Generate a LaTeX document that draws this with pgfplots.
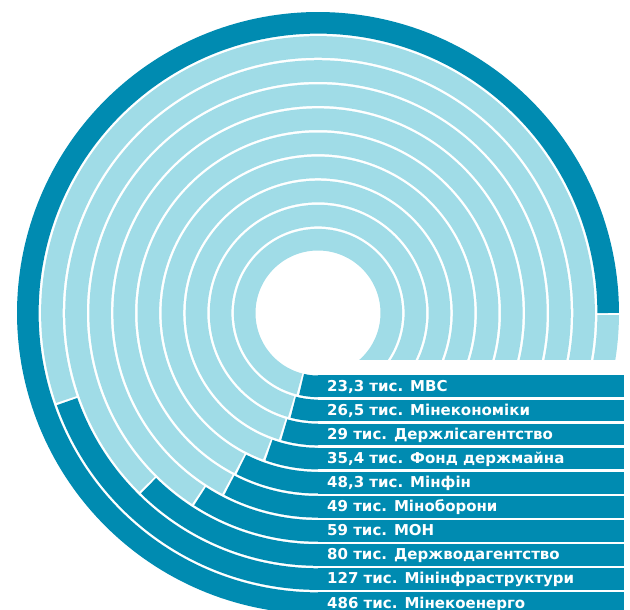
\documentclass[border=0pt]{standalone}
\usepackage{fontspec}
\setmainfont{DejaVu Sans}
\usepackage{pgfplots}
\usepackage{pgfplotstable}
\pgfplotsset{compat=1.18}
\definecolor{darkt}{RGB}{0,139,177}
\definecolor{lightt}{RGB}{160,220,231}
\pgfplotstableread{
idx value
0 23.3
1 26.5
2 29
3 35.4
4 48.3
5 49
6 59
7 80
8 127
9 486
}\datatable

\begin{document}
\begin{tikzpicture}
\useasboundingbox (0,0) rectangle (630bp,610bp);
\begin{axis}[at={(0,0)}, anchor=south west, x=1bp, y=1bp,
  xmin=-318, xmax=312, ymin=-297, ymax=313, hide axis, clip=true,
  enlargelimits=false]
% light remainder of each ring
\pgfplotsinvokeforeach{0,...,9}{
  \pgfplotstablegetelem{#1}{value}\of\datatable
  \pgfmathsetmacro\th{\pgfplotsretval/486*270}
  \pgfmathsetmacro\rr{73.3+24.1*#1}
  \pgfmathsetmacro\rin{\rr-10.8}
  \pgfmathsetmacro\ph{asin(47/\rin)}
  \pgfmathsetmacro\lo{-360-\ph}
  \pgfmathsetmacro\hi{-90-\th-2.2/\rr*57.2958}
  \edef\temp{\noexpand\addplot[draw=lightt, line width=21.6bp, no marks, domain=\lo:\hi, samples=200] ({\rr*cos(x)},{\rr*sin(x)});}
  \temp
}
% white mask for horizontal cut of the light rings
\addplot[fill=white, draw=none] coordinates {(0,-47) (330,-47) (330,-63.3) (0,-63.3)};
% dark value arcs and bars
\pgfplotsinvokeforeach{0,...,9}{
  \pgfplotstablegetelem{#1}{value}\of\datatable
  \pgfmathsetmacro\th{\pgfplotsretval/486*270}
  \pgfmathsetmacro\rr{73.3+24.1*#1}
  \pgfmathsetmacro\hi{-90-\th}
  \edef\temp{\noexpand\addplot[draw=darkt, line width=21.6bp, no marks, domain=\hi:-90, samples=200] ({\rr*cos(x)},{\rr*sin(x)});
  \noexpand\addplot[draw=darkt, line width=21.6bp, no marks] coordinates {(-0.4,-\rr) (306,-\rr)};}
  \temp
}
\begin{scope}[every node/.style={anchor=base west, text=white, inner sep=0pt, font=\fontsize{15bp}{18bp}\selectfont\bfseries}]
\node at (axis cs:9,-78.1) {23,3 тис. МВС};
\node at (axis cs:9,-102.2) {26,5 тис. Мінекономіки};
\node at (axis cs:9,-126.3) {29 тис. Держлісагентство};
\node at (axis cs:9,-150.4) {35,4 тис. Фонд держмайна};
\node at (axis cs:9,-174.5) {48,3 тис. Мінфін};
\node at (axis cs:9,-198.6) {49 тис. Міноборони};
\node at (axis cs:9,-222.7) {59 тис. МОН};
\node at (axis cs:9,-246.8) {80 тис. Держводагентство};
\node at (axis cs:9,-270.9) {127 тис. Мінінфраструктури};
\node at (axis cs:9,-295.0) {486 тис. Мінекоенерго};
\end{scope}
\end{axis}
\end{tikzpicture}
\end{document}
